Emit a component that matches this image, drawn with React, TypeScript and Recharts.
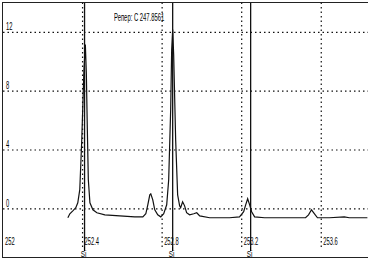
import React from 'react';
import { LineChart, Line, XAxis, YAxis, ReferenceLine } from 'recharts';

const wavelengths = [
  252.326, 252.336, 252.351, 252.366, 252.376, 252.386, 252.396, 252.407, 252.414, 252.419,
  252.424, 252.429, 252.437, 252.452, 252.472, 252.512, 252.587, 252.662, 252.703, 252.718,
  252.728, 252.738, 252.743, 252.753, 252.763, 252.778, 252.793, 252.808, 252.823, 252.833,
  252.843, 252.848, 252.853, 252.858, 252.868, 252.878, 252.888, 252.893, 252.903, 252.913,
  252.923, 252.938, 252.959, 252.974, 252.989, 253.039, 253.089, 253.139, 253.189, 253.210,
  253.220, 253.230, 253.240, 253.250, 253.265, 253.315, 253.390, 253.491, 253.521, 253.536,
  253.551, 253.566, 253.581, 253.641, 253.716, 253.741, 253.832,
];
const intensities = [
  -0.61, -0.34, -0.14, 0.07, 0.41, 1.3, 4.7, 9.48, 11.18, 9.2,
  5.39, 1.98, 0.41, -0.07, -0.27, -0.41, -0.48, -0.55, -0.55, -0.34,
  0.27, 0.95, 1.02, 0.61, -0.07, -0.41, -0.55, -0.34, 0.27, 1.98,
  6.75, 10.84, 12.2, 10.5, 4.7, 0.95, 0.2, 0.07, 0.48, 0.2,
  -0.27, -0.41, -0.34, -0.27, -0.48, -0.61, -0.61, -0.61, -0.55, -0.2,
  0.27, 0.68, 0.27, -0.2, -0.55, -0.61, -0.61, -0.61, -0.61, -0.41,
  -0.07, -0.34, -0.61, -0.61, -0.55, -0.61, -0.61,
];
const xTicks = [252, 252.4, 252.8, 253.2, 253.6];
const xTickLabels = ['252', '252.4', '252.8', '253.2', '253.6'];
const yTicks = [0, 4, 8, 12];
const yTickLabels = ['0', '4', '8', '12'];
const siLines = [252.41, 252.853, 253.245];
const siLabel = 'Si';
const annotation = 'Репер: С 247.8561';

const data = wavelengths.map((w, i) => ({ w, v: intensities[i] }));

const FONT = '"Liberation Sans", Arial, sans-serif';

const NarrowText = ({ x, y, children, size = 10, scale = 0.58, anchor = 'start' }: any) => (
  <text
    transform={`translate(${x},${y}) scale(${scale},1)`}
    x={0}
    y={0}
    fontSize={size}
    fontFamily={FONT}
    fill="#000"
    stroke="none"
    textAnchor={anchor}
  >
    {children}
  </text>
);

const makeXLabel = (label: string) => (props: any) => {
  const vb = props.viewBox || {};
  return <NarrowText x={vb.x + 2} y={vb.y + vb.height - 2}>{label}</NarrowText>;
};

const makeYLabel = (label: string) => (props: any) => {
  const vb = props.viewBox || {};
  return <NarrowText x={vb.x + 3} y={vb.y - 2}>{label}</NarrowText>;
};

const siLabelContent = (props: any) => {
  const vb = props.viewBox || {};
  const bx = vb.x;
  const by = (vb.y || 0) + (vb.height || 0);
  return (
    <g>
      <line x1={bx} x2={bx} y1={by} y2={by + 4} stroke="#000" strokeWidth={1.3} />
      <NarrowText x={bx - 1} y={by + 9.5} size={9} scale={0.7} anchor="middle">
        {siLabel}
      </NarrowText>
    </g>
  );
};

export default function App() {
  return (
    <div style={{ position: 'absolute', left: 0, top: 0, width: 374, height: 266, background: '#fff' }}>
      <div
        style={{
          position: 'absolute',
          left: 2,
          top: 2,
          width: 366,
          height: 256,
          boxSizing: 'border-box',
          borderLeft: '1px solid #222',
          borderTop: '1.5px solid #222',
          borderBottom: '1px solid #222',
        }}
      />
      <div
        style={{
          position: 'absolute',
          left: 114,
          top: 12,
          fontSize: 10.5,
          fontFamily: FONT,
          color: '#000',
          whiteSpace: 'nowrap',
          lineHeight: '11px',
          transform: 'scaleX(0.56)',
          transformOrigin: 'left top',
        }}
      >
        {annotation}
      </div>
      <div style={{ position: 'absolute', left: 0, top: 0 }}>
        <LineChart width={374} height={266} data={data} margin={{ top: 3, right: 6, bottom: 19, left: 3 }}>
          <XAxis
            dataKey="w"
            type="number"
            domain={[252, 253.835]}
            ticks={xTicks}
            interval={0}
            height={0}
            tickSize={0}
            tickLine={false}
            axisLine={{ stroke: '#111', strokeWidth: 1.2 }}
            tick={false}
            allowDataOverflow
          />
          <YAxis
            type="number"
            domain={[-2.6, 14]}
            ticks={yTicks}
            width={0}
            tickLine={false}
            axisLine={false}
            tick={false}
            allowDataOverflow
          />
          {yTicks.map((t, i) => (
            <ReferenceLine
              key={'h' + t}
              y={t}
              stroke="#111"
              strokeWidth={1.2}
              strokeDasharray="1.5 3"
              label={makeYLabel(yTickLabels[i])}
            />
          ))}
          {xTicks.map((t, i) => (
            <ReferenceLine
              key={'v' + t}
              x={t}
              stroke={i === 0 ? 'none' : '#111'}
              strokeWidth={1.2}
              strokeDasharray="1.5 3"
              label={makeXLabel(xTickLabels[i])}
            />
          ))}
          <Line
            type="linear"
            dataKey="v"
            stroke="#111"
            strokeWidth={1.2}
            dot={false}
            isAnimationActive={false}
          />
          {siLines.map((s) => (
            <ReferenceLine key={'si' + s} x={s} stroke="#111" strokeWidth={1.3} label={siLabelContent} />
          ))}
        </LineChart>
      </div>
    </div>
  );
}
